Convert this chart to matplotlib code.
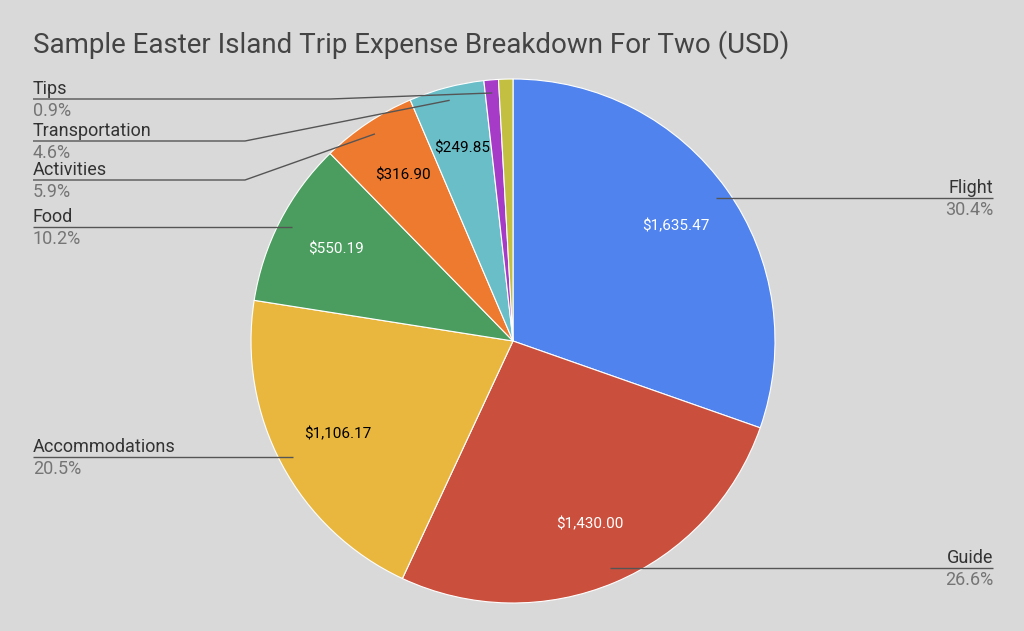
import numpy as np
import matplotlib.pyplot as plt

plt.rcParams['font.family'] = ['Roboto', 'DejaVu Sans']

# data
categories = ['Flight', 'Guide', 'Accommodations', 'Food', 'Activities',
              'Transportation', 'Tips', 'Other']
amounts = [1635.47, 1430.00, 1106.17, 550.19, 316.90, 249.85, 48.00, 47.50]
show_value = [True, True, True, True, True, True, False, False]
show_label = [True, True, True, True, True, True, True, False]
colors = ['#5083ee', '#cb4f3d', '#e9b73e', '#4a9d5e', '#ee7a30',
          '#6abec8', '#a63bc8', '#c2bf41']
value_colors = ['white', 'white', 'black', 'white', 'black', 'black',
                'black', 'black']

W, H = 1024, 631
BG = '#d9d9d9'
cx, cy, R = 513, H - 341, 262

fig = plt.figure(figsize=(W / 100, H / 100), dpi=100, facecolor=BG)
ax = fig.add_axes([0, 0, 1, 1])
ax.set_facecolor(BG)

wedges, _ = ax.pie(amounts, colors=colors, startangle=90, counterclock=False,
                   center=(cx, cy), radius=R, frame=True,
                   wedgeprops=dict(edgecolor='white', linewidth=0.8))
ax.set_xlim(0, W)
ax.set_ylim(0, H)
ax.set_aspect('equal')
ax.axis('off')

total = sum(amounts)
fracs = np.array(amounts) / total
starts = np.concatenate([[0], np.cumsum(fracs)[:-1]])
mids = 90 - (starts + fracs / 2) * 360

# values inside slices
for i, a in enumerate(amounts):
    if not show_value[i]:
        continue
    r = 0.76 * R
    th = np.radians(mids[i])
    ax.text(cx + r * np.cos(th), cy + r * np.sin(th), f'${a:,.2f}',
            ha='center', va='center', fontsize=11, color=value_colors[i])

# outside labels: (side, text x, line y in image px, bend x or None)
label_layout = {
    'Flight': ('right', 993, 198, None),
    'Guide': ('right', 993, 568, None),
    'Accommodations': ('left', 33, 457, None),
    'Food': ('left', 33, 227, None),
    'Activities': ('left', 33, 180, 245),
    'Transportation': ('left', 33, 141, 245),
    'Tips': ('left', 33, 99, 330),
}
line_col = '#555555'
for i, name in enumerate(categories):
    if not show_label[i]:
        continue
    side, tx, ly, bend = label_layout[name]
    ly = H - ly
    th = np.radians(mids[i])
    rr = 0.95 * R
    axp, ayp = cx + rr * np.cos(th), cy + rr * np.sin(th)
    if bend is None:
        xs, ys = [tx, axp], [ly, ly]
    else:
        xs, ys = [tx, bend, axp], [ly, ly, ayp]
    ax.plot(xs, ys, color=line_col, lw=1.0, solid_capstyle='butt')
    ha = 'left' if side == 'left' else 'right'
    ax.text(tx, ly + 10, name, ha=ha, va='center', fontsize=13,
            color='#333333')
    ax.text(tx, ly - 12, f'{fracs[i] * 100:.1f}%', ha=ha, va='center',
            fontsize=13, color='#757575')

ax.text(33, H - 45, 'Sample Easter Island Trip Expense Breakdown For Two (USD)',
        ha='left', va='center', fontsize=20, color='#444444')

fig.savefig('out.png', dpi=100, facecolor=BG)
